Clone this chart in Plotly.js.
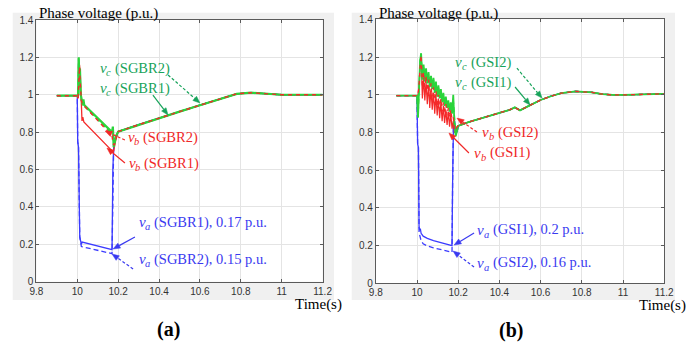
<!DOCTYPE html>
<html><head><meta charset="utf-8">
<script src="https://cdn.plot.ly/plotly-3.0.1.min.js"></script>
<style>html,body{margin:0;padding:0;background:#fff;} #chart{width:697px;height:343px;}</style>
</head><body><div id="chart"></div>
<script>
// ---------- axis ticks ----------
const xTicks = [9.8, 10, 10.2, 10.4, 10.6, 10.8, 11, 11.2];
const xTickText = ['9.8', '10', '10.2', '10.4', '10.6', '10.8', '11', '11.2'];
const yTicks = [0, 0.2, 0.4, 0.6, 0.8, 1, 1.2, 1.4];
const yTickText = ['0', '0.2', '0.4', '0.6', '0.8', '1', '1.2', '1.4'];

// ---------- (a) SGBR ----------
const rampT_a = [10.2, 10.3, 10.4, 10.5, 10.6, 10.7, 10.78, 10.85, 10.9, 10.95, 11.0, 11.1, 11.2];
const rampV_a = [0.803, 0.840, 0.876, 0.910, 0.944, 0.978, 1.005, 1.011, 1.008, 1.002, 1.000, 1.000, 1.000];

const vaT_a1 = [9.9, 10.0, 10.002, 10.006, 10.012, 10.016, 10.02, 10.024, 10.17, 10.174, 10.178, 10.186];
const vaV_a1 = [0.995, 0.995, 0.75, 0.72, 0.24, 0.22, 0.20, 0.212, 0.172, 0.60, 0.72, 0.76];
const vaT_a2 = [9.9, 10.0, 10.002, 10.006, 10.012, 10.016, 10.02, 10.17, 10.174, 10.178, 10.186];
const vaV_a2 = [0.995, 0.995, 0.75, 0.72, 0.24, 0.20, 0.188, 0.150, 0.60, 0.72, 0.76];

const vbT_a1 = [9.9, 10.0, 10.004, 10.008, 10.011, 10.015, 10.019, 10.023, 10.027, 10.032, 10.17, 10.175, 10.18, 10.19];
const vbV_a1 = [0.995, 0.995, 0.98, 1.05, 1.16, 1.10, 0.88, 0.86, 0.88, 0.855, 0.70, 0.69, 0.71, 0.77];
const vbT_a2 = [9.9, 10.0, 10.004, 10.008, 10.011, 10.015, 10.02, 10.025, 10.03, 10.17, 10.175, 10.18, 10.19];
const vbV_a2 = [0.995, 0.995, 0.98, 1.08, 1.15, 1.05, 0.97, 0.95, 0.945, 0.78, 0.74, 0.73, 0.77];

const vcT_a = [9.9, 10.0, 10.004, 10.007, 10.01, 10.013, 10.017, 10.021, 10.026, 10.03, 10.034, 10.17, 10.174, 10.178, 10.183, 10.19];
const vcV_a1 = [0.995, 0.995, 1.0, 1.20, 1.08, 1.14, 1.0, 0.97, 0.95, 0.975, 0.945, 0.80, 0.83, 0.72, 0.74, 0.78];
const vcV_a2 = [0.995, 0.995, 1.0, 1.19, 1.10, 1.12, 0.99, 0.96, 0.94, 0.96, 0.94, 0.79, 0.81, 0.73, 0.75, 0.78];

// ---------- (b) GSI ----------
const rampT_b = [10.2, 10.25, 10.3, 10.35, 10.4, 10.45, 10.475, 10.49, 10.5, 10.55, 10.6, 10.65, 10.7, 10.77, 10.85, 10.9, 10.95, 11.0, 11.1, 11.2];
const rampV_b = [0.835, 0.855, 0.872, 0.89, 0.905, 0.92, 0.933, 0.925, 0.917, 0.945, 0.972, 0.992, 1.008, 1.018, 1.012, 1.003, 0.999, 0.999, 1.002, 1.005];

const vaT_b = [9.9, 10.0, 10.003, 10.007, 10.01, 10.013, 10.016, 10.02, 10.03, 10.05, 10.08, 10.11, 10.14, 10.17, 10.173, 10.177, 10.182, 10.188, 10.194];
const vaV_b1 = [0.995, 0.995, 0.74, 0.72, 0.30, 0.28, 0.29, 0.265, 0.25, 0.238, 0.226, 0.216, 0.207, 0.200, 0.55, 0.84, 0.86, 0.81, 0.80];
const vaV_b2 = [0.995, 0.995, 0.74, 0.72, 0.27, 0.255, 0.245, 0.225, 0.21, 0.198, 0.188, 0.18, 0.172, 0.165, 0.55, 0.84, 0.86, 0.81, 0.80];

const preT_b = [9.9, 10.0, 10.005, 10.01, 10.015];
const vbPre_b = [0.995, 0.995, 1.0, 1.05, 1.15];
const vcPre_b = [0.995, 0.995, 0.88, 1.10, 1.18];

const rippleT_b = [10.020, 10.026, 10.032, 10.038, 10.044, 10.050, 10.056, 10.062, 10.068, 10.074, 10.080, 10.086, 10.092,
                   10.098, 10.104, 10.110, 10.116, 10.122, 10.128, 10.134, 10.140, 10.146, 10.152, 10.158, 10.164, 10.170];
const vcRip_b1 = [1.22, 1.08, 1.16, 1.07, 1.14, 1.06, 1.12, 1.04, 1.10, 1.03, 1.09, 1.01, 1.07,
                  0.99, 1.05, 0.98, 1.03, 0.96, 1.01, 0.94, 0.99, 0.93, 0.97, 0.91, 0.96, 0.90];
const vcRip_b2 = [1.21, 1.10, 1.15, 1.09, 1.13, 1.07, 1.11, 1.05, 1.09, 1.04, 1.08, 1.02, 1.06,
                  1.00, 1.04, 0.99, 1.02, 0.97, 1.00, 0.95, 0.98, 0.94, 0.96, 0.92, 0.95, 0.91];
const vbRip_b1 = [1.20, 0.98, 1.09, 0.97, 1.07, 0.95, 1.05, 0.93, 1.03, 0.92, 1.01, 0.90, 1.00,
                  0.89, 0.98, 0.875, 0.96, 0.86, 0.94, 0.85, 0.92, 0.84, 0.91, 0.83, 0.90, 0.82];
const vbRip_b2 = [1.21, 1.04, 1.12, 1.02, 1.10, 1.00, 1.08, 0.98, 1.06, 0.97, 1.04, 0.95, 1.02,
                  0.94, 1.00, 0.92, 0.98, 0.91, 0.96, 0.90, 0.95, 0.89, 0.93, 0.88, 0.92, 0.87];

const postT_b = [10.176, 10.182, 10.188, 10.194];
const vcPost_b1 = [1.00, 0.84, 0.78, 0.81];
const vcPost_b2 = [0.97, 0.86, 0.79, 0.82];
const vbPost_b1 = [0.86, 0.80, 0.80, 0.83];
const vbPost_b2 = [0.88, 0.82, 0.81, 0.83];

// ---------- colours ----------
const cBlue = '#3b3bff', cRed = '#f42a2a', cGreen = '#2bd43b';
const tBlue = '#3a3af0', tRed = '#f02828', tGreen = '#17a35a';

function tr(x, y, color, width, dash, xa, ya) {
  return {x: x, y: y, type: 'scatter', mode: 'lines', xaxis: xa, yaxis: ya, hoverinfo: 'skip',
          line: {color: color, width: width, dash: dash, shape: 'linear'}, showlegend: false};
}
const D = '5px,3px';
const traces = [
  // (a)
  tr(vaT_a1.concat(rampT_a), vaV_a1.concat(rampV_a), cBlue, 1.3, 'solid', 'x', 'y'),
  tr(vaT_a2.concat(rampT_a), vaV_a2.concat(rampV_a), cBlue, 1.3, D, 'x', 'y'),
  tr(vbT_a1.concat(rampT_a), vbV_a1.concat(rampV_a), cRed, 1.3, 'solid', 'x', 'y'),
  tr(vcT_a.concat(rampT_a), vcV_a1.concat(rampV_a), cGreen, 2.2, 'solid', 'x', 'y'),
  tr(vcT_a.concat(rampT_a), vcV_a2.concat(rampV_a), cGreen, 1.6, D, 'x', 'y'),
  tr(vbT_a2.concat(rampT_a), vbV_a2.concat(rampV_a), cRed, 1.4, '4px,4px', 'x', 'y'),
  // (b)
  tr(vaT_b.concat(rampT_b), vaV_b1.concat(rampV_b), cBlue, 1.3, 'solid', 'x2', 'y2'),
  tr(vaT_b.concat(rampT_b), vaV_b2.concat(rampV_b), cBlue, 1.3, D, 'x2', 'y2'),
  tr(preT_b.concat(rippleT_b, postT_b, rampT_b), vbPre_b.concat(vbRip_b1, vbPost_b1, rampV_b), cRed, 1.2, 'solid', 'x2', 'y2'),
  tr(preT_b.concat(rippleT_b, postT_b, rampT_b), vcPre_b.concat(vcRip_b1, vcPost_b1, rampV_b), cGreen, 1.8, 'solid', 'x2', 'y2'),
  tr(preT_b.concat(rippleT_b, postT_b, rampT_b), vcPre_b.concat(vcRip_b2, vcPost_b2, rampV_b), cGreen, 1.4, D, 'x2', 'y2'),
  tr(preT_b.concat(rippleT_b, postT_b, rampT_b), vbPre_b.concat(vbRip_b2, vbPost_b2, rampV_b), cRed, 1.3, '4px,4px', 'x2', 'y2')
];

// ---------- axes ----------
const W = 697, H = 343;
function axisBase(dom) {
  return {domain: dom, showgrid: true, gridcolor: '#e4e4e4', gridwidth: 1, zeroline: false,
          showline: true, linecolor: '#5a5a5a', linewidth: 1, mirror: 'ticks',
          ticks: 'inside', ticklen: 3, tickcolor: '#5a5a5a',
          tickfont: {family: 'Liberation Sans, Arial, sans-serif', size: 10, color: '#333'}};
}
const domXa = [36.4 / W, 322.6 / W], domYa = [1 - 281.7 / H, 1 - 20 / H];
const domXb = [375.8 / W, 664.2 / W], domYb = [1 - 283.3 / H, 1 - 19.3 / H];
const xa = Object.assign(axisBase(domXa), {range: [9.8, 11.2], tickvals: xTicks, ticktext: xTickText, anchor: 'y'});
const ya = Object.assign(axisBase(domYa), {range: [0, 1.4], tickvals: yTicks, ticktext: yTickText, anchor: 'x'});
const xb = Object.assign(axisBase(domXb), {range: [9.8, 11.2], tickvals: xTicks, ticktext: xTickText, anchor: 'y2'});
const yb = Object.assign(axisBase(domYb), {range: [0, 1.4], tickvals: yTicks, ticktext: yTickText, anchor: 'x2'});

// pixels per data unit, for drawing arrowheads in screen space
const scale = {
  x: [(domXa[1] - domXa[0]) * W / 1.4, (domYa[1] - domYa[0]) * H / 1.4],
  x2: [(domXb[1] - domXb[0]) * W / 1.4, (domYb[1] - domYb[0]) * H / 1.4]
};

// ---------- backgrounds ----------
function prect(x0, x1, y0, y1, fill) {
  return {type: 'rect', xref: 'paper', yref: 'paper', x0: x0, x1: x1, y0: y0, y1: y1,
          fillcolor: fill, line: {width: 0}, layer: 'below'};
}
const shapes = [
  prect(12.7 / W, 334 / W, 1 - 300 / H, 1 - 12.7 / H, '#f0f0f0'),
  prect(351.7 / W, 675 / W, 1 - 300 / H, 1 - 12.7 / H, '#f0f0f0'),
  prect(domXa[0], domXa[1], domYa[0], domYa[1], '#ffffff'),
  prect(domXb[0], domXb[1], domYb[0], domYb[1], '#ffffff')
];

// ---------- annotations ----------
const serif = 'Liberation Serif, Times New Roman, serif';
const annotations = [];
function label(xr, yr, x, y, sub, rest, color) {
  const base = {xref: xr, yref: yr, x: x, y: y, showarrow: false, xanchor: 'left', yanchor: 'middle'};
  annotations.push(Object.assign({}, base, {text: '<i>v</i>', font: {family: serif, size: 15, color: color}}));
  annotations.push(Object.assign({}, base, {text: '<i>' + sub + '</i>', xshift: 6.5, yshift: -4.5,
                                            font: {family: serif, size: 10.5, color: color}}));
  annotations.push(Object.assign({}, base, {text: rest, xshift: 15.5, font: {family: serif, size: 14.5, color: color}}));
}
function arrow(xr, yr, tail, tip, color, dashed) {
  const s = scale[xr];
  const dx = (tip[0] - tail[0]) * s[0], dy = -(tip[1] - tail[1]) * s[1];
  const L = Math.hypot(dx, dy), ux = dx / L, uy = dy / L;
  const len = 7, hw = 2.8;
  const bx = -ux * len, by = -uy * len;
  const p1 = [bx - uy * hw, by + ux * hw], p2 = [bx + uy * hw, by - ux * hw];
  const toData = p => [tip[0] + p[0] / s[0], tip[1] - p[1] / s[1]];
  const b = toData([bx, by]), c1 = toData(p1), c2 = toData(p2);
  shapes.push({type: 'line', xref: xr, yref: yr, x0: tail[0], y0: tail[1], x1: b[0], y1: b[1],
               line: {color: color, width: 1.2, dash: dashed ? '3px,2px' : 'solid'}});
  shapes.push({type: 'path', xref: xr, yref: yr,
               path: 'M' + tip[0] + ',' + tip[1] + ' L' + c1[0] + ',' + c1[1] + ' L' + c2[0] + ',' + c2[1] + ' Z',
               fillcolor: color, line: {color: color, width: 0.5}});
}
// (a)
label('x', 'y', 10.101, 1.143, 'c', '(SGBR2)', tGreen);
label('x', 'y', 10.101, 1.036, 'c', '(SGBR1)', tGreen);
label('x', 'y', 10.236, 0.774, 'b', '(SGBR2)', tRed);
label('x', 'y', 10.243, 0.635, 'b', '(SGBR1)', tRed);
label('x', 'y', 10.292, 0.319, 'a', '(SGBR1), 0.17 p.u.', tBlue);
label('x', 'y', 10.292, 0.121, 'a', '(SGBR2), 0.15 p.u.', tBlue);
arrow('x', 'y', [10.444, 1.106], [10.600, 0.956], tGreen, true);
arrow('x', 'y', [10.370, 0.998], [10.444, 0.892], tGreen, false);
arrow('x', 'y', [10.233, 0.758], [10.136, 0.806], tRed, true);
arrow('x', 'y', [10.233, 0.635], [10.145, 0.715], tRed, false);
arrow('x', 'y', [10.282, 0.239], [10.175, 0.175], tBlue, false);
arrow('x', 'y', [10.273, 0.068], [10.170, 0.148], tBlue, true);
// (b)
label('x2', 'y2', 10.175, 1.173, 'c', '(GSI2)', tGreen);
label('x2', 'y2', 10.175, 1.067, 'c', '(GSI1)', tGreen);
label('x2', 'y2', 10.306, 0.802, 'b', '(GSI2)', tRed);
label('x2', 'y2', 10.267, 0.691, 'b', '(GSI1)', tRed);
label('x2', 'y2', 10.282, 0.283, 'a', '(GSI1), 0.2 p.u.', tBlue);
label('x2', 'y2', 10.282, 0.108, 'a', '(GSI2), 0.16 p.u.', tBlue);
arrow('x2', 'y2', [10.485, 1.141], [10.607, 0.982], tGreen, true);
arrow('x2', 'y2', [10.476, 1.041], [10.549, 0.945], tGreen, false);
arrow('x2', 'y2', [10.291, 0.802], [10.194, 0.876], tRed, true);
arrow('x2', 'y2', [10.252, 0.691], [10.155, 0.797], tRed, false);
arrow('x2', 'y2', [10.277, 0.267], [10.180, 0.203], tBlue, false);
arrow('x2', 'y2', [10.277, 0.086], [10.175, 0.171], tBlue, true);

function ptext(px, py, txt, size, anchor, bold) {
  annotations.push({xref: 'paper', yref: 'paper', x: px / W, y: 1 - py / H, text: bold ? '<b>' + txt + '</b>' : txt,
                    showarrow: false, xanchor: anchor, yanchor: 'middle',
                    font: {family: serif, size: size, color: '#000'}});
}
ptext(37, 13.5, 'Phase voltage (p.u.)', 15, 'left', false);
ptext(377, 13.5, 'Phase voltage (p.u.)', 15, 'left', false);
ptext(293, 304, 'Time(s)', 15, 'left', false);
ptext(637, 305, 'Time(s)', 15, 'left', false);
ptext(168, 329, '(a)', 20, 'center', true);
ptext(511, 330, '(b)', 20, 'center', true);

const layout = {
  width: W, height: H, margin: {l: 0, r: 0, t: 0, b: 0},
  paper_bgcolor: '#ffffff', plot_bgcolor: '#ffffff',
  xaxis: xa, yaxis: ya, xaxis2: xb, yaxis2: yb,
  shapes: shapes, annotations: annotations, showlegend: false
};
Plotly.newPlot('chart', traces, layout, {staticPlot: true, displayModeBar: false});
</script></body></html>
